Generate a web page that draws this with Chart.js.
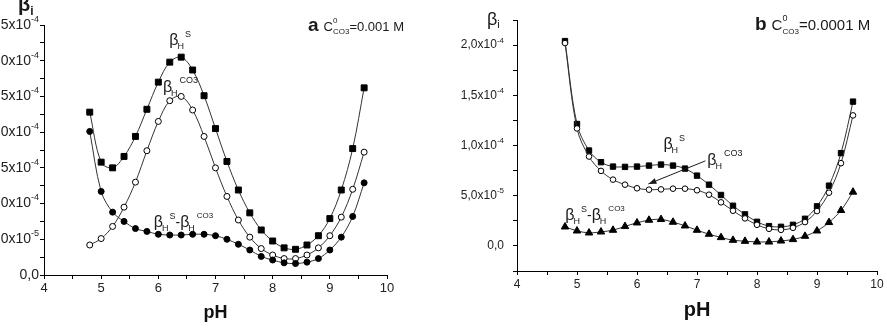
<!DOCTYPE html>
<html>
<head>
<meta charset="utf-8">
<script src="https://cdn.jsdelivr.net/npm/chart.js@4.4.1/dist/chart.umd.min.js"></script>
<style>
  html, body { margin: 0; padding: 0; background: #fff; overflow: hidden; }
  body { width: 887px; height: 334px; position: relative; }
  canvas { position: absolute; top: 0; }
  #chartA { left: -20px; }
  #chartB { left: 440px; }
</style>
</head>
<body>
<canvas id="chartA" width="460" height="334"></canvas>
<canvas id="chartB" width="447" height="334"></canvas>
<script>
// pH values, shared by both panels
const pH = [4.8, 5.0, 5.2, 5.4, 5.6, 5.8, 6.0, 6.2, 6.4, 6.6, 6.8, 7.0, 7.2,
            7.4, 7.6, 7.8, 8.0, 8.2, 8.4, 8.6, 8.8, 9.0, 9.2, 9.4, 9.6];

// panel a (C0 = 0.001 M), values in units of 1e-4
const betaS_a    = [2.28, 1.58, 1.50, 1.66, 1.94, 2.32, 2.70, 2.98, 3.05, 2.87, 2.51, 2.05, 1.59,
                    1.19, 0.87, 0.63, 0.476, 0.38, 0.36, 0.42, 0.55, 0.79, 1.19, 1.77, 2.62];
const betaCO3_a  = [0.42, 0.51, 0.68, 0.95, 1.30, 1.74, 2.15, 2.44, 2.50, 2.31, 1.94, 1.50, 1.10,
                    0.77, 0.53, 0.37, 0.28, 0.23, 0.23, 0.28, 0.38, 0.55, 0.81, 1.20, 1.72];
const betaDiff_a = [2.01, 1.17, 0.88, 0.75, 0.65, 0.61, 0.57, 0.56, 0.56, 0.57, 0.57, 0.55, 0.50,
                    0.43, 0.35, 0.26, 0.21, 0.17, 0.16, 0.18, 0.23, 0.35, 0.53, 0.82, 1.29];

// panel b (C0 = 0.0001 M), values in units of 1e-4
const betaS_b    = [2.04, 1.214, 0.95, 0.834, 0.79, 0.787, 0.79, 0.80, 0.81, 0.80, 0.77, 0.70, 0.61,
                    0.507, 0.40, 0.314, 0.24, 0.197, 0.19, 0.21, 0.27, 0.394, 0.60, 0.924, 1.437];
const betaCO3_b  = [2.02, 1.17, 0.89, 0.747, 0.66, 0.61, 0.574, 0.56, 0.563, 0.57, 0.57, 0.554, 0.51,
                    0.434, 0.35, 0.274, 0.21, 0.17, 0.16, 0.18, 0.237, 0.347, 0.53, 0.824, 1.30];
const betaDiff_b = [0.19, 0.15, 0.13, 0.14, 0.157, 0.194, 0.23, 0.257, 0.264, 0.237, 0.20, 0.157, 0.117,
                    0.084, 0.057, 0.047, 0.04, 0.04, 0.05, 0.064, 0.097, 0.15, 0.234, 0.354, 0.537];

// tick labels (text after ^ is drawn as superscript)
const xTickLabels   = ['4', '5', '6', '7', '8', '9', '10'];
const yTickLabels_a = ['0,0', '5,0x10^-5', '1,0x10^-4', '1,5x10^-4', '2,0x10^-4', '2,5x10^-4', '3,0x10^-4', '3,5x10^-4'];
const yTickLabels_b = ['0,0', '5,0x10^-5', '1,0x10^-4', '1,5x10^-4', '2,0x10^-4'];

const FONT = '"Liberation Sans", Arial, sans-serif';
Chart.defaults.font.family = FONT;

function series(ys, kind, sizes) {
  const base = {
    data: pH.map((x, i) => ({ x: x, y: ys[i] })),
    borderColor: '#333',
    borderWidth: 1,
    tension: 0.35,
    pointBorderColor: '#000',
    pointBorderWidth: 1
  };
  if (kind === 'square') {
    return Object.assign(base, { pointStyle: 'rect', pointRadius: sizes.sq, pointBackgroundColor: '#000' });
  } else if (kind === 'open') {
    return Object.assign(base, { pointStyle: 'circle', pointRadius: sizes.circ, pointBackgroundColor: '#fff' });
  } else if (kind === 'dot') {
    return Object.assign(base, { pointStyle: 'circle', pointRadius: sizes.circ, pointBackgroundColor: '#000' });
  }
  return Object.assign(base, { pointStyle: 'triangle', pointRadius: sizes.tri, pointBackgroundColor: '#000' });
}

// draws a row of text pieces (sub/superscripts) starting at x,y (alphabetic baseline)
function drawRuns(ctx, x, y, runs) {
  let cx = x;
  runs.forEach(r => {
    const [t, size, dy, dx, opt] = r;
    ctx.font = ((opt && opt.bold) ? 'bold ' : '') + size + 'px ' + FONT;
    cx += dx || 0;
    ctx.fillText(t, cx, y + dy);
    if (!(opt && opt.stack)) cx += ctx.measureText(t).width;
  });
}

const runsHS   = [['β', 16, 0, 0], ['H', 9, 4, -1], ['S', 9, -8, 1]];
const runsHCO3 = [['β', 16, 0, 0], ['H', 9, 4, -1], ['CO3', 9, -9, 2]];
const runsDiff = [['β', 16, 0, 0], ['H', 9, 4, -1], ['S', 9, -8, 1], ['-', 14, 0, 0],
                  ['β', 16, 0, 0], ['H', 9, 4, -1], ['CO3', 8, -9, 2]];

const annotate = {
  id: 'annotate',
  afterDatasetsDraw(chart, args, opts) {
    const ctx = chart.ctx;
    const xs = chart.scales.x, ys = chart.scales.y;
    ctx.save();
    ctx.fillStyle = '#1a1a1a';
    ctx.strokeStyle = '#1a1a1a';
    ctx.textBaseline = 'alphabetic';
    ctx.textAlign = 'left';
    opts.labels.forEach(l => {
      drawRuns(ctx, xs.getPixelForValue(l.x), ys.getPixelForValue(l.y), l.runs);
    });
    // page positioned texts (header, axis symbol)
    opts.page.forEach(p => {
      drawRuns(ctx, p.x - opts.offset, p.y, p.runs);
    });
    if (opts.arrow) {
      const a = opts.arrow;
      const x1 = xs.getPixelForValue(a.from[0]), y1 = ys.getPixelForValue(a.from[1]);
      const x2 = xs.getPixelForValue(a.to[0]), y2 = ys.getPixelForValue(a.to[1]);
      ctx.lineWidth = 1;
      ctx.beginPath(); ctx.moveTo(x1, y1); ctx.lineTo(x2, y2); ctx.stroke();
      const ang = Math.atan2(y2 - y1, x2 - x1);
      ctx.beginPath();
      ctx.moveTo(x2, y2);
      ctx.lineTo(x2 - 8 * Math.cos(ang) + 3 * Math.sin(ang), y2 - 8 * Math.sin(ang) - 3 * Math.cos(ang));
      ctx.lineTo(x2 - 8 * Math.cos(ang) - 3 * Math.sin(ang), y2 - 8 * Math.sin(ang) + 3 * Math.cos(ang));
      ctx.closePath(); ctx.fill();
    }
    // y tick labels with superscript exponent
    const size = opts.ySize, supSize = Math.round(size * 0.64);
    ctx.fillStyle = '#222';
    ctx.textBaseline = 'middle';
    ys.ticks.forEach(t => {
      if (!t.label) return;
      const parts = String(t.label).split('^');
      ctx.font = size + 'px ' + FONT;
      const w1 = ctx.measureText(parts[0]).width;
      ctx.font = supSize + 'px ' + FONT;
      const w2 = parts[1] ? ctx.measureText(parts[1]).width : 0;
      const yy = ys.getPixelForValue(t.value);
      let xx = ys.right - 4 - opts.tickPad - w1 - w2;
      ctx.font = size + 'px ' + FONT;
      ctx.fillText(parts[0], xx, yy);
      if (parts[1]) {
        ctx.font = supSize + 'px ' + FONT;
        ctx.fillText(parts[1], xx + w1, yy - size * 0.4);
      }
    });
    ctx.restore();
  }
};

function makeChart(id, cfg) {
  return new Chart(document.getElementById(id), {
    type: 'line',
    data: { datasets: cfg.datasets },
    plugins: [annotate],
    options: {
      responsive: false,
      animation: false,
      layout: { padding: cfg.padding },
      plugins: {
        legend: { display: false },
        tooltip: { enabled: false },
        annotate: Object.assign({ ySize: cfg.ySize, tickPad: cfg.yPad }, cfg.annotate)
      },
      scales: {
        x: {
          type: 'linear', min: 4, max: 10,
          border: { color: '#000', width: 1 },
          grid: { drawOnChartArea: false, tickLength: 4, color: '#000' },
          ticks: {
            stepSize: 0.5, autoSkip: false, maxRotation: 0, padding: cfg.xPad,
            color: '#222', font: { size: cfg.tickSize },
            callback: v => Number.isInteger(v) ? xTickLabels[v - 4] : ''
          },
          title: {
            display: true, text: 'pH', color: '#111',
            font: { size: cfg.titleSize, weight: 'bold' },
            padding: { top: 0, bottom: cfg.titlePad }
          },
          afterFit: s => { s.height = cfg.xHeight; }
        },
        y: {
          type: 'linear', min: cfg.yMin, max: cfg.yMax,
          border: { color: '#000', width: 1 },
          grid: { drawOnChartArea: false, tickLength: 4, color: '#000' },
          ticks: {
            stepSize: 0.25, autoSkip: false, padding: cfg.yPad,
            color: 'rgba(0,0,0,0)', font: { size: cfg.ySize },
            callback: v => {
              const k = v / 0.5;
              if (v < -1e-9 || Math.abs(k - Math.round(k)) > 1e-6) return '';
              return cfg.yLabels[Math.round(k)];
            }
          },
          afterFit: s => { s.width = cfg.yWidth; }
        }
      }
    }
  });
}

const sizesA = { sq: 4.2, circ: 3, tri: 4.3 };
makeChart('chartA', {
  datasets: [
    series(betaDiff_a, 'dot', sizesA),
    series(betaCO3_a, 'open', sizesA),
    series(betaS_a, 'square', sizesA)
  ],
  padding: { left: 0, right: 53, top: 25, bottom: 0 },
  xHeight: 59, yWidth: 64, yMin: 0, yMax: 3.5,
  xPad: 2, yPad: 1, tickSize: 13, ySize: 14, titleSize: 18, titlePad: 10,
  yLabels: yTickLabels_a,
  annotate: {
    offset: -20,
    labels: [
      { x: 6.19, y: 3.22, runs: runsHS },
      { x: 6.08, y: 2.56, runs: runsHCO3 },
      { x: 5.92, y: 0.67, runs: runsDiff }
    ],
    page: [
      { x: 18, y: 11, runs: [['β', 20, 0, 0, { bold: true }], ['i', 12, 4, 0, { bold: true }]] },
      { x: 308, y: 31, runs: [['a', 19, 0, 0, { bold: true }], ['C', 13, 0, 5], ['0', 8, -8, 0, { stack: true }],
                              ['CO3', 8, 3, 0], ['=0.001 M', 13, 0, 0]] }
    ]
  }
});

const sizesB = { sq: 3.8, circ: 2.8, tri: 4.3 };
makeChart('chartB', {
  datasets: [
    series(betaDiff_b, 'tri', sizesB),
    series(betaCO3_b, 'open', sizesB),
    series(betaS_b, 'square', sizesB)
  ],
  padding: { left: 0, right: 10, top: 20, bottom: 0 },
  xHeight: 63, yWidth: 77, yMin: -0.25, yMax: 2.25,
  xPad: 2, yPad: 9, tickSize: 12, ySize: 12, titleSize: 20, titlePad: 12,
  yLabels: yTickLabels_b,
  annotate: {
    offset: 440,
    labels: [
      { x: 6.44, y: 0.967, runs: runsHS },
      { x: 7.17, y: 0.807, runs: runsHCO3 },
      { x: 4.805, y: 0.257, runs: runsDiff }
    ],
    arrow: { from: [7.14, 0.847], to: [6.19, 0.617] },
    page: [
      { x: 487, y: 25, runs: [['β', 18, 0, 0], ['i', 11, 3, 0]] },
      { x: 755, y: 30, runs: [['b', 19, 0, 0, { bold: true }], ['C', 15, 0, 5], ['0', 9, -9, 0, { stack: true }],
                              ['CO3', 8, 4, 0], ['=0.0001 M', 15, 0, 0]] }
    ]
  }
});
</script>
</body>
</html>
